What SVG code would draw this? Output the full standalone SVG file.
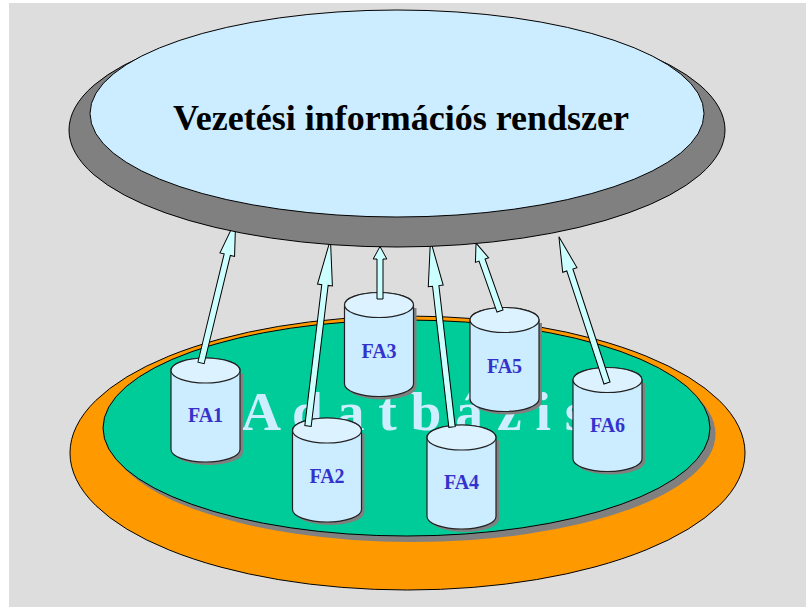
<svg xmlns="http://www.w3.org/2000/svg" width="806" height="607" viewBox="0 0 806 607">
<defs>
<style>
.edge{stroke:#000;stroke-width:1}
.cylbody{fill:#CCECFF;stroke:#222;stroke-width:1.2}
.cyltop{fill:#DDF2FF;stroke:#222;stroke-width:1.2}
.cylshadow{fill:#808080}
.lbl{font-family:"Liberation Serif","Times New Roman",serif;font-weight:bold;font-size:20px;fill:#3333CC;text-anchor:middle}
.arrow{fill:#CCFFFF;stroke:#000;stroke-width:1;stroke-linejoin:miter}
</style>
<g id="cyl">
<path class="cylshadow" transform="translate(3,3)" d="M-34.5,0 L-34.5,79 A34.5,12.5 0 0 0 34.5,79 L34.5,0 Z"/>
<path class="cylbody" d="M-34.5,0 L-34.5,79 A34.5,12.5 0 0 0 34.5,79 L34.5,0 A34.5,12.5 0 0 0 -34.5,0 Z"/>
<ellipse class="cyltop" cx="0" cy="0" rx="34.5" ry="12.5"/>
</g>
</defs>
<rect x="0" y="0" width="806" height="607" fill="#FFFFFF"/>
<rect x="9" y="3" width="797" height="604" fill="#DDDDDD"/>

<g id="adatbazis">
<ellipse cx="407.5" cy="453" rx="337.5" ry="137" fill="#FF9900" class="edge"/>
<ellipse cx="412" cy="434" rx="303.5" ry="108" fill="#808080"/>
<ellipse cx="406.5" cy="428" rx="303.5" ry="108" fill="#00CC99" class="edge"/>
<text x="241" y="430" font-family="'Liberation Serif','Times New Roman',serif" font-weight="bold" font-size="55.5" fill="#CCEEFF">A d a t b á z i s</text>
</g>

<g id="fa1"><use href="#cyl" x="205.5" y="370.5"/><text class="lbl" x="205.5" y="422">FA1</text></g>
<g id="fa2"><use href="#cyl" x="327" y="430.5"/><text class="lbl" x="327" y="483">FA2</text></g>
<g id="fa3"><use href="#cyl" x="379" y="305"/><text class="lbl" x="379" y="358">FA3</text></g>
<g id="fa4"><use href="#cyl" x="461.5" y="437.5"/><text class="lbl" x="461.5" y="489">FA4</text></g>
<g id="fa5"><use href="#cyl" x="504.5" y="320"/><text class="lbl" x="504.5" y="373">FA5</text></g>
<g id="fa6"><use href="#cyl" x="607.5" y="380"/><text class="lbl" x="607.5" y="432">FA6</text></g>

<g id="connectors">
<polygon class="arrow" transform="translate(201,363) rotate(13.63)" points="-3.2,0 -3.2,-111.5 -7.5,-111.5 0,-147 7.5,-111.5 3.2,-111.5 3.2,0"/>
<polygon class="arrow" transform="translate(308,426) rotate(6.86)" points="-3.2,0 -3.2,-142 -7.5,-142 0,-188 7.5,-142 3.2,-142 3.2,0"/>
<polygon class="arrow" transform="translate(380,299)" points="-3,0 -3,-40 -6.8,-40 0,-52.5 6.8,-40 3,-40 3,0"/>
<polygon class="arrow" transform="translate(452,427) rotate(-6.58)" points="-3.2,0 -3.2,-142 -7.5,-142 0,-188 7.5,-142 3.2,-142 3.2,0"/>
<polygon class="arrow" transform="translate(500,311) rotate(-19.44)" points="-3.2,0 -3.2,-54 -7,-54 0,-72 7,-54 3.2,-54 3.2,0"/>
<polygon class="arrow" transform="translate(607,383) rotate(-18.2)" points="-3.2,0 -3.2,-119 -7.5,-119 0,-154 7.5,-119 3.2,-119 3.2,0"/>
</g>

<g id="vir">
<ellipse cx="397" cy="130" rx="328" ry="117" fill="#808080" class="edge"/>
<ellipse cx="397" cy="113.5" rx="307" ry="103.5" fill="#CCECFF" class="edge"/>
<text x="401" y="130" text-anchor="middle" font-family="'Liberation Serif','Times New Roman',serif" font-weight="bold" font-size="36" fill="#000">Vezetési információs rendszer</text>
</g>
</svg>
